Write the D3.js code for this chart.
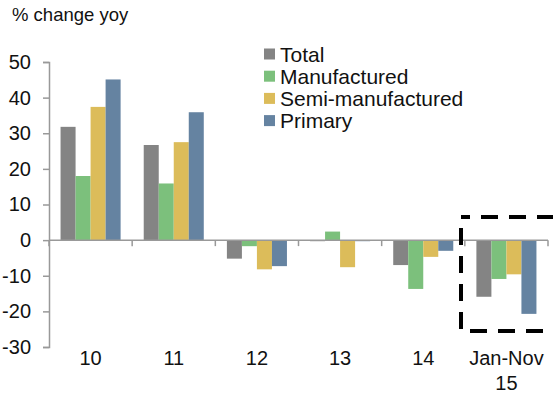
<!DOCTYPE html>
<html>
<head>
<meta charset="utf-8">
<script src="https://cdn.jsdelivr.net/npm/d3@7"></script>
<style>
  body { margin: 0; background: #fff; }
  svg { display: block; font-family: "Liberation Sans", Arial, sans-serif; }
</style>
</head>
<body>
<div id="chart"></div>
<script>
// data
var categories = ["10", "11", "12", "13", "14", "Jan-Nov|15"];
var seriesNames = ["Total", "Manufactured", "Semi-manufactured", "Primary"];
var total = [31.8, 26.7, -5.2, -0.3, -7.0, -15.9];
var manufactured = [18.0, 15.9, -1.7, 2.4, -13.7, -10.9];
var semiManufactured = [37.4, 27.5, -8.2, -7.6, -4.7, -9.6];
var primary = [45.1, 35.9, -7.3, -0.3, -3.0, -20.7];
var yTicks = [-30, -20, -10, 0, 10, 20, 30, 40, 50];
var colors = ["#848484", "#7cc07c", "#dcbc5a", "#6583a1"];

var seriesValues = [total, manufactured, semiManufactured, primary];
var rows = categories.map((c, i) => ({
    cat: c,
    values: seriesNames.map((s, j) => ({ name: s, value: seriesValues[j][i], color: colors[j] }))
}));

var width = 553, height = 406;
var plotLeft = 49, plotRight = 548, plotTop = 62, plotBottom = 347;

var svg = d3.select("#chart").append("svg")
    .attr("width", width)
    .attr("height", height);

// scales
var x0 = d3.scaleBand().domain(categories).range([plotLeft, plotRight]).padding(0);
var x1 = d3.scaleBand().domain(seriesNames).range([0, x0.bandwidth()]).paddingInner(0).paddingOuter(0.77);
var y = d3.scaleLinear().domain([-30, 50]).range([plotBottom, plotTop]);

// title
svg.append("text")
    .attr("x", 12)
    .attr("y", 21)
    .attr("font-size", 18.5)
    .attr("fill", "#111")
    .text("% change yoy");

// bars
var groups = svg.append("g")
    .selectAll("g")
    .data(rows)
    .enter()
    .append("g")
    .attr("transform", d => translate(x0(d.cat), 0));
groups.selectAll("rect")
    .data(d => d.values)
    .enter()
    .append("rect")
    .attr("x", d => x1(d.name))
    .attr("width", x1.bandwidth())
    .attr("y", d => y(Math.max(0, d.value)))
    .attr("height", d => Math.abs(y(d.value) - y(0)))
    .attr("fill", d => d.color);

// y axis
var yAxis = d3.axisLeft(y)
    .tickValues(yTicks)
    .tickSize(6)
    .tickPadding(12)
    .tickFormat(d => String(d));
var yg = svg.append("g")
    .attr("transform", translate(plotLeft, 0))
    .call(yAxis);
yg.selectAll("path, line").attr("stroke", "#999").attr("stroke-width", 1.5);
yg.selectAll("text").attr("font-size", 20).attr("fill", "#111")
    .attr("font-family", "Liberation Sans, Arial, sans-serif");

// zero line with category boundary ticks
var bounds = categories.map(c => x0(c)).concat([plotRight]);
var zg = svg.append("g").attr("transform", translate(0, y(0)));
zg.append("line")
    .attr("x1", plotLeft).attr("x2", plotRight)
    .attr("stroke", "#999").attr("stroke-width", 1.5);
zg.selectAll("line.tick")
    .data(bounds)
    .enter()
    .append("line")
    .attr("class", "tick")
    .attr("x1", d => d).attr("x2", d => d)
    .attr("y1", 0).attr("y2", 6)
    .attr("stroke", "#999").attr("stroke-width", 1.5);

// category labels
var xAxis = d3.axisBottom(x0).tickSize(0).tickPadding(18).tickFormat("");
var xg = svg.append("g")
    .attr("transform", translate(0, plotBottom))
    .call(xAxis);
xg.select(".domain").remove();
xg.selectAll(".tick text")
    .attr("font-size", 20)
    .attr("fill", "#111")
    .attr("font-family", "Liberation Sans, Arial, sans-serif")
    .each(function (d) {
        var parts = d.split("|");
        var t = d3.select(this);
        parts.forEach((p, i) => {
            t.append("tspan")
                .attr("x", 0)
                .attr("dy", i === 0 ? 0 : "1.25em")
                .text(p);
        });
    });

// legend
var legend = svg.append("g")
    .selectAll("g")
    .data(seriesNames)
    .enter()
    .append("g")
    .attr("transform", (d, i) => translate(264, 54 + i * 22.2));
legend.append("rect")
    .attr("x", 0).attr("y", -5.5)
    .attr("width", 11).attr("height", 11)
    .attr("fill", (d, i) => colors[i]);
legend.append("text")
    .attr("x", 16)
    .attr("dy", "0.36em")
    .attr("font-size", 21)
    .attr("fill", "#111")
    .text(d => d);

// dashed highlight box around the last category
svg.append("rect")
    .attr("x", 461)
    .attr("y", 217)
    .attr("width", 120)
    .attr("height", 114)
    .attr("fill", "none")
    .attr("stroke", "#000")
    .attr("stroke-width", 4)
    .attr("stroke-dasharray", "17,11")
    .attr("stroke-dashoffset", 8);

function translate(x, y) {
    return `translate(${x}, ${y})`;
}
</script>
</body>
</html>
